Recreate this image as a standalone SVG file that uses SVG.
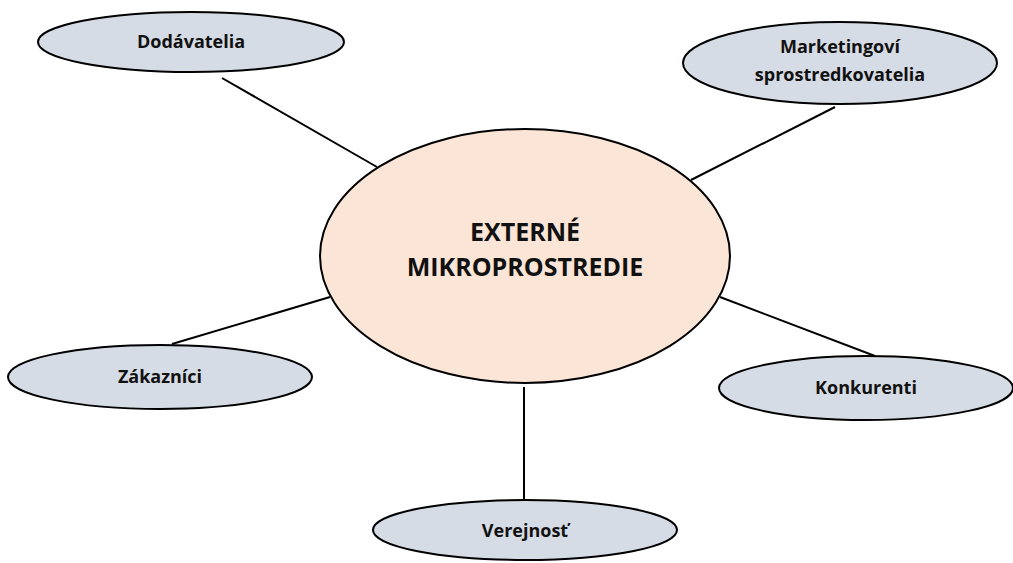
<svg xmlns="http://www.w3.org/2000/svg" width="1013" height="563" viewBox="0 0 1013 563">
<style>
.n{fill:#d6dce5;stroke:#000;stroke-width:2}
.c{fill:#fbe5d6;stroke:#000;stroke-width:2}
text{font-family:"Open Sans","Liberation Sans",sans-serif;font-weight:700;fill:#111;text-anchor:middle}
.s{font-size:18px}
.b{font-size:25px}
#edges line{stroke:#000;stroke-width:2}
</style>
<rect width="1013" height="563" fill="#fff"/>
<g id="edges">
<line x1="222" y1="78" x2="377" y2="167"/>
<line x1="835" y1="107" x2="691" y2="180"/>
<line x1="172" y1="344" x2="330" y2="297"/>
<line x1="720" y1="297" x2="875" y2="356"/>
<line x1="524" y1="387" x2="524" y2="510"/>
</g>
<g id="center">
<ellipse class="c" cx="525" cy="256" rx="205" ry="127"/>
<text class="b" x="525" y="241">EXTERNÉ</text>
<text class="b" x="525" y="276">MIKROPROSTREDIE</text>
</g>
<g id="dodavatelia">
<ellipse class="n" cx="191" cy="42" rx="153" ry="30"/>
<text class="s" x="191" y="48">Dodávatelia</text>
</g>
<g id="marketing">
<ellipse class="n" cx="840" cy="63" rx="157" ry="41"/>
<text class="s" x="840" y="53">Marketingoví</text>
<text class="s" x="840" y="81">sprostredkovatelia</text>
</g>
<g id="zakaznici">
<ellipse class="n" cx="160" cy="377" rx="152" ry="32"/>
<text class="s" x="160" y="383">Zákazníci</text>
</g>
<g id="konkurenti">
<ellipse class="n" cx="866" cy="388" rx="147" ry="32"/>
<text class="s" x="866" y="394">Konkurenti</text>
</g>
<g id="verejnost">
<ellipse class="n" cx="525" cy="530" rx="152" ry="30"/>
<text class="s" x="525" y="537">Verejnosť</text>
</g>
</svg>
